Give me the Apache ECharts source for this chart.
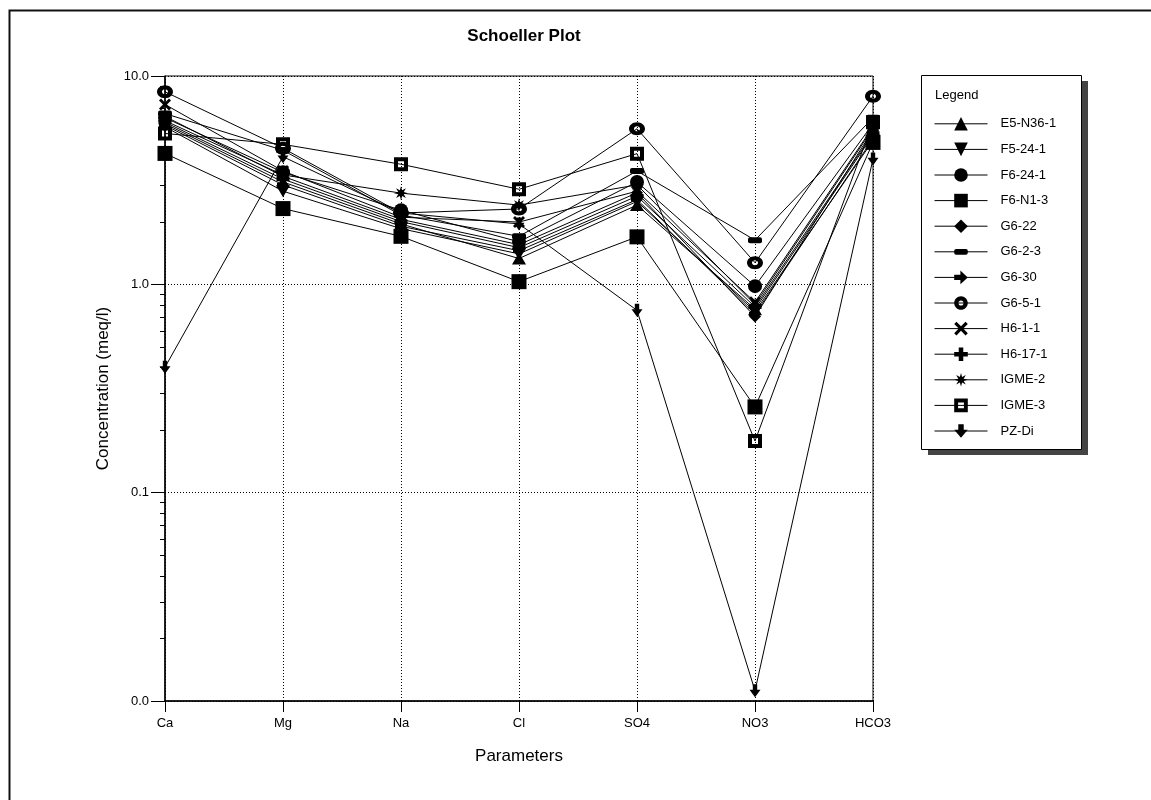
<!DOCTYPE html>
<html>
<head>
<meta charset="utf-8">
<script src="https://cdn.jsdelivr.net/npm/echarts@6/dist/echarts.min.js"></script>
<style>
  html, body { margin: 0; padding: 0; background: #fff; }
  #chart { width: 1151px; height: 800px; }
</style>
</head>
<body>
<div id="chart"></div>
<script>
// Schoeller plot of major ion concentrations (meq/l), one line per sample
const parameters = ['Ca', 'Mg', 'Na', 'Cl', 'SO4', 'NO3', 'HCO3'];
const yTickLabels = ['0.0', '0.1', '1.0', '10.0'];

const E5_N36_1 = [5.9, 3.1, 1.95, 1.33, 2.4, 0.76, 5.2];
const F5_24_1  = [5.7, 2.8, 1.85, 1.40, 2.5, 0.74, 4.9];
const F6_24_1  = [6.3, 3.45, 2.27, 1.60, 3.1, 0.98, 5.9];
const F6_N1_3  = [4.25, 2.31, 1.70, 1.03, 1.69, 0.258, 4.8];
const G6_22    = [6.4, 3.3, 2.05, 1.55, 2.75, 0.70, 5.5];
const G6_2_3   = [6.6, 4.4, 2.15, 1.70, 3.5, 1.63, 6.3];
const G6_30    = [5.8, 3.0, 1.90, 1.45, 2.55, 0.72, 5.0];
const G6_5_1   = [8.4, 4.5, 2.20, 2.30, 5.58, 1.27, 8.0];
const H6_1_1   = [7.3, 3.5, 2.10, 1.99, 2.8, 0.82, 5.7];
const H6_17_1  = [6.0, 3.2, 2.00, 1.50, 2.65, 0.78, 5.3];
const IGME_2   = [6.1, 3.35, 2.74, 2.40, 3.0, 0.80, 5.6];
const IGME_3   = [5.3, 4.7, 3.77, 2.86, 4.24, 0.177, 6.0];
const PZ_Di    = [0.40, 4.1, 2.20, 1.95, 0.75, 0.0112, 4.0];

// marker shapes
function starPath(points, rOut, rIn) {
  let d = '';
  for (let i = 0; i < points * 2; i++) {
    const r = i % 2 === 0 ? rOut : rIn;
    const a = Math.PI * i / points - Math.PI / 2;
    const x = (rOut + r * Math.cos(a)).toFixed(2);
    const y = (rOut + r * Math.sin(a)).toFixed(2);
    d += (i === 0 ? 'M' : 'L') + x + ',' + y + ' ';
  }
  return 'path://' + d + 'Z';
}
const SYM_INV_TRI = 'path://M0,0 L12,0 L6,11 Z';
// rounded dash inside a square box so it keeps its proportions everywhere
const SYM_DASH = 'path://M7,0 L7,0 M2,4 H12 Q14,4 14,6 V8 Q14,10 12,10 H2 Q0,10 0,8 V6 Q0,4 2,4 Z M7,14 L7,14';
const SYM_ARROW_R = 'path://M0,3 H5 V0 L11,5 L5,10 V7 H0 Z';
const SYM_RING = 'path://M0,6.5 C0,2.9 3.6,0 8,0 C12.4,0 16,2.9 16,6.5 C16,10.1 12.4,13 8,13 C3.6,13 0,10.1 0,6.5 Z ' +
                 'M5,6.5 C5,8 6.3,9 8,9 C9.7,9 11,8 11,6.5 C11,5 9.7,4 8,4 C6.3,4 5,5 5,6.5 Z';
const SYM_X = 'path://M2,0 L6,4 L10,0 L12,2 L8,6 L12,10 L10,12 L6,8 L2,12 L0,10 L4,6 L0,2 Z';
const SYM_PLUS = 'path://M4,0 H8 V4 H12 V8 H8 V12 H4 V8 H0 V4 H4 Z';
const SYM_STAR = starPath(8, 7, 3);
const SYM_SQ_HOLE = 'path://M0,0 H14 V14 H0 Z M4,4 V10 H10 V4 Z';
const SYM_ARROW_D = 'path://M3,0 H7 V5 H10 L5,12 L0,5 H3 Z';

const samples = [
  { name: 'E5-N36-1', data: E5_N36_1, symbol: 'triangle', size: [14, 12] },
  { name: 'F5-24-1',  data: F5_24_1,  symbol: SYM_INV_TRI, size: [14, 12] },
  { name: 'F6-24-1',  data: F6_24_1,  symbol: 'circle', size: 14 },
  { name: 'F6-N1-3',  data: F6_N1_3,  symbol: 'rect', size: 15 },
  { name: 'G6-22',    data: G6_22,    symbol: 'diamond', size: 12 },
  { name: 'G6-2-3',   data: G6_2_3,   symbol: SYM_DASH, size: 14 },
  { name: 'G6-30',    data: G6_30,    symbol: SYM_ARROW_R, size: [12, 10] },
  { name: 'G6-5-1',   data: G6_5_1,   symbol: SYM_RING, size: [16, 13] },
  { name: 'H6-1-1',   data: H6_1_1,   symbol: SYM_X, size: 12 },
  { name: 'H6-17-1',  data: H6_17_1,  symbol: SYM_PLUS, size: 13 },
  { name: 'IGME-2',   data: IGME_2,   symbol: SYM_STAR, size: 14 },
  { name: 'IGME-3',   data: IGME_3,   symbol: SYM_SQ_HOLE, size: 14 },
  { name: 'PZ-Di',    data: PZ_Di,    symbol: SYM_ARROW_D, size: [11, 13] }
];

const FONT = '"Liberation Sans", Arial, sans-serif';
const GRID = { left: 165, right: 278, top: 76, bottom: 99 };

const chart = echarts.init(document.getElementById('chart'), null, { renderer: 'canvas' });

const option = {
  backgroundColor: '#fff',
  animation: false,
  textStyle: { fontFamily: FONT, color: '#000' },
  title: {
    text: 'Schoeller Plot',
    left: 519, top: 23, textAlign: 'center',
    textStyle: { fontFamily: FONT, fontSize: 17, fontWeight: 'bold', color: '#000' }
  },
  grid: Object.assign({ show: true, borderColor: '#000', borderWidth: 1, backgroundColor: 'transparent' }, GRID),
  legend: {
    orient: 'vertical',
    left: 934, top: 117,
    padding: 0,
    itemWidth: 53, itemHeight: 17, itemGap: 12,
    data: samples.map(s => s.name),
    lineStyle: { width: 1, color: '#000' },
    textStyle: { fontFamily: FONT, fontSize: 13, color: '#000', padding: [0, 0, 0, 8] },
    inactiveColor: '#000'
  },
  xAxis: {
    type: 'category',
    data: parameters,
    boundaryGap: false,
    name: 'Parameters',
    nameLocation: 'middle',
    nameGap: 47,
    nameTextStyle: { fontFamily: FONT, fontSize: 17, color: '#000' },
    axisLine: { lineStyle: { color: '#000', width: 1.5 } },
    axisTick: { alignWithLabel: true, length: 11, lineStyle: { color: '#000' } },
    axisLabel: { margin: 16, fontFamily: FONT, fontSize: 13, color: '#000' },
    splitLine: { show: true, lineStyle: { color: '#000', type: [1, 2], width: 1 } }
  },
  yAxis: {
    type: 'log',
    logBase: 10,
    min: 0.01,
    max: 10,
    name: 'Concentration (meq/l)',
    nameLocation: 'middle',
    nameGap: 53,
    nameTextStyle: { fontFamily: FONT, fontSize: 17, color: '#000' },
    axisLine: { show: true, lineStyle: { color: '#000', width: 1.5 } },
    axisTick: { show: true, length: 14, lineStyle: { color: '#000' } },
    axisLabel: {
      margin: 16, fontFamily: FONT, fontSize: 13, color: '#000',
      formatter: v => yTickLabels[Math.round(Math.log10(v)) + 2]
    },
    splitLine: { show: true, lineStyle: { color: '#000', type: [1, 2], width: 1 } }
  },
  series: samples.map(s => ({
    name: s.name,
    type: 'line',
    data: s.data,
    symbol: s.symbol,
    symbolSize: s.size,
    showAllSymbol: true,
    lineStyle: { color: '#000', width: 1 },
    itemStyle: { color: '#000', borderWidth: 0 },
    emphasis: { disabled: true }
  })),
  graphic: []
};

chart.setOption(option);

// outer frame, legend box with shadow, and log minor ticks
const gfx = [
  { type: 'rect', z: -10, silent: true,
    shape: { x: 9.5, y: 10.5, width: 1300, height: 900 },
    style: { fill: null, stroke: '#111', lineWidth: 2 } },
  { type: 'rect', z: 0, silent: true,
    shape: { x: 928, y: 81, width: 160, height: 374 },
    style: { fill: '#444', stroke: null } },
  { type: 'rect', z: 1, silent: true,
    shape: { x: 921.5, y: 75.5, width: 160, height: 374 },
    style: { fill: '#fff', stroke: '#000', lineWidth: 1 } },
  { type: 'text', z: 2, silent: true, x: 935, y: 89,
    style: { text: 'Legend', fontFamily: FONT, fontSize: 13, fill: '#000' } }
];
for (let k = -2; k < 1; k++) {
  for (let m = 2; m <= 9; m++) {
    const p = chart.convertToPixel({ gridIndex: 0 }, [0, m * Math.pow(10, k)]);
    gfx.push({ type: 'line', silent: true, z: 5,
      shape: { x1: p[0] - 5, y1: Math.round(p[1]) + 0.5, x2: p[0], y2: Math.round(p[1]) + 0.5 },
      style: { stroke: '#000', lineWidth: 1 } });
  }
}
chart.setOption({ graphic: gfx });
</script>
</body>
</html>
